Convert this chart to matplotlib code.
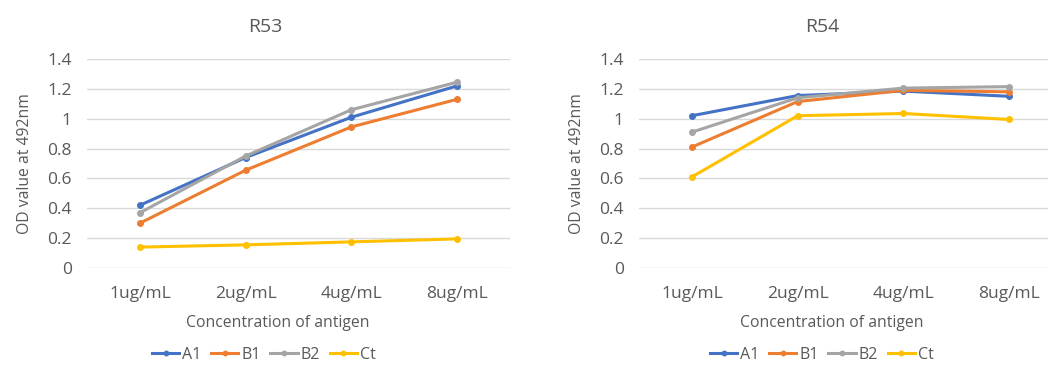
import matplotlib
matplotlib.use('Agg')
import matplotlib.pyplot as plt

plt.rcParams['font.family'] = ['Open Sans', 'DejaVu Sans']

categories = ['1ug/mL', '2ug/mL', '4ug/mL', '8ug/mL']
series = ['A1', 'B1', 'B2', 'Ct']
colors = ['#4472C4', '#ED7D31', '#A5A5A5', '#FFC000']

r53 = {
    'A1': [0.42, 0.74, 1.01, 1.22],
    'B1': [0.30, 0.655, 0.945, 1.13],
    'B2': [0.37, 0.75, 1.06, 1.245],
    'Ct': [0.14, 0.155, 0.175, 0.195],
}
r54 = {
    'A1': [1.02, 1.155, 1.185, 1.15],
    'B1': [0.81, 1.115, 1.19, 1.18],
    'B2': [0.91, 1.14, 1.205, 1.215],
    'Ct': [0.61, 1.02, 1.035, 0.995],
}
yticks = [0, 0.2, 0.4, 0.6, 0.8, 1, 1.2, 1.4]
ytick_labels = ['0', '0.2', '0.4', '0.6', '0.8', '1', '1.2', '1.4']

W, H = 1048, 365
fig = plt.figure(figsize=(W / 100, H / 100), dpi=100)
text_c = '#595959'

# title, data, plot-area left edge, title x, x-label x, legend x (pixels)
panels = [('R53', r53, 87, 265, 278, 264), ('R54', r54, 639, 822, 832, 822)]
for title, data, x0, tx, lx, gx in panels:
    ax = fig.add_axes([x0 / W, (H - 268) / H, 423 / W, 209 / H])
    x = range(len(categories))
    for name, c in zip(series, colors):
        ax.plot(x, data[name], color=c, lw=2.2, marker='o', ms=4, label=name, zorder=3)
    ax.set_xlim(-0.5, 3.5)
    ax.set_ylim(0, 1.4)
    ax.set_yticks(yticks)
    ax.set_yticklabels(ytick_labels)
    ax.set_xticks(list(x))
    ax.set_xticklabels(categories)
    ax.grid(axis='y', color='#D9D9D9', lw=1)
    ax.set_axisbelow(True)
    for s in ax.spines.values():
        s.set_visible(False)
    ax.tick_params(length=0, colors=text_c, labelsize=12.5)
    ax.tick_params(axis='x', pad=13)
    ax.tick_params(axis='y', pad=11)
    ax.set_ylabel('OD value at 492nm', color=text_c, fontsize=11.3, labelpad=10)
    fig.text(tx / W, 1 - 27 / H, title, color=text_c, fontsize=14, ha='center', va='center')
    fig.text(lx / W, 1 - 323 / H, 'Concentration of antigen', color=text_c, fontsize=11.3,
             ha='center', va='center')
    handles, labels = ax.get_legend_handles_labels()
    fig.legend(handles, labels, loc='center', bbox_to_anchor=(gx / W, 1 - 355 / H), ncol=4,
               frameon=False, fontsize=11.5, labelcolor=text_c, handlelength=1.7,
               handletextpad=0.2, columnspacing=0.6, markerscale=0.8, borderpad=0)

fig.savefig('out.png', dpi=100)
